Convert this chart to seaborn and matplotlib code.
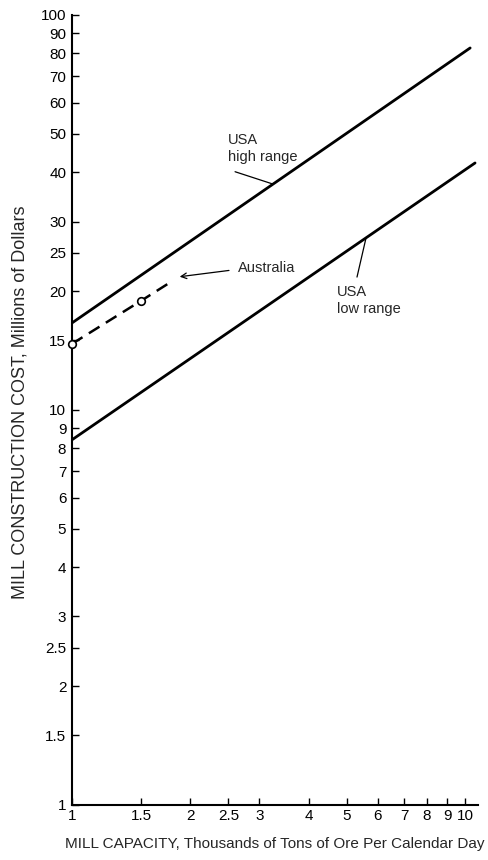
import matplotlib
matplotlib.use("Agg")
import matplotlib.pyplot as plt
import seaborn as sns
import pandas as pd
from matplotlib.ticker import FixedLocator, NullLocator

sns.set_style("ticks")
plt.rcParams['font.family'] = ['Liberation Sans', 'DejaVu Sans']

# Data
high_x = [1.0, 10.3]
high_y = [16.6, 82.5]
low_x = [1.0, 10.6]
low_y = [8.4, 42.2]
aus_x = [1.0, 1.5, 1.8]
aus_y = [14.7, 18.9, 21.2]
aus_marker_x = [1.0, 1.5]
aus_marker_y = [14.7, 18.9]

x_ticks = [1, 1.5, 2, 2.5, 3, 4, 5, 6, 7, 8, 9, 10]
x_ticklabels = ["1", "1.5", "2", "2.5", "3", "4", "5", "6", "7", "8", "9", "10"]
y_ticks = [1, 1.5, 2, 2.5, 3, 4, 5, 6, 7, 8, 9, 10, 15, 20, 25, 30, 40, 50, 60, 70, 80, 90, 100]
y_ticklabels = ["1", "1.5", "2", "2.5", "3", "4", "5", "6", "7", "8", "9", "10",
                "15", "20", "25", "30", "40", "50", "60", "70", "80", "90", "100"]

df_high = pd.DataFrame({"x": high_x, "y": high_y})
df_low = pd.DataFrame({"x": low_x, "y": low_y})
df_aus = pd.DataFrame({"x": aus_x, "y": aus_y})
df_aus_m = pd.DataFrame({"x": aus_marker_x, "y": aus_marker_y})

fig = plt.figure(figsize=(4.89, 8.6), dpi=100)
ax = fig.add_axes([0.147, 0.064, 0.831, 0.9186])
ax.set_xscale("log")
ax.set_yscale("log")

sns.lineplot(data=df_high, x="x", y="y", ax=ax, color="black", lw=2.0)
sns.lineplot(data=df_low, x="x", y="y", ax=ax, color="black", lw=2.0)
sns.lineplot(data=df_aus, x="x", y="y", ax=ax, color="black", lw=1.8,
             linestyle=(0, (5, 3)))
sns.scatterplot(data=df_aus_m, x="x", y="y", ax=ax, s=30, facecolor="white",
                edgecolor="black", linewidth=1.2, zorder=5, clip_on=False)

ax.set_xlim(1, 10.8)
ax.set_ylim(1, 100)

ax.xaxis.set_major_locator(FixedLocator(x_ticks))
ax.xaxis.set_minor_locator(NullLocator())
ax.set_xticklabels(x_ticklabels)
ax.yaxis.set_major_locator(FixedLocator(y_ticks))
ax.yaxis.set_minor_locator(NullLocator())
ax.set_yticklabels(y_ticklabels)

ax.tick_params(axis="both", direction="in", length=5, width=1.0, labelsize=11,
               color="black", labelcolor="black")
ax.tick_params(axis="x", pad=3)
ax.tick_params(axis="y", pad=4)

for s in ["top", "right"]:
    ax.spines[s].set_visible(False)
for s in ["left", "bottom"]:
    ax.spines[s].set_linewidth(1.5)
    ax.spines[s].set_color("black")

ax.set_xlabel("MILL CAPACITY, Thousands of Tons of Ore Per Calendar Day",
              fontsize=11, labelpad=10)
ax.set_ylabel("MILL CONSTRUCTION COST, Millions of Dollars", fontsize=13, labelpad=8)
ax.yaxis.set_label_coords(-0.106, 0.51)

# Annotations
ax.text(2.49, 46.0, "USA\nhigh range", ha="left", va="center", fontsize=10.5,
        linespacing=1.3)
ax.plot([2.60, 3.25], [40.1, 37.3], color="black", lw=0.9)

ax.text(4.73, 18.9, "USA\nlow range", ha="left", va="center", fontsize=10.5,
        linespacing=1.3)
ax.plot([5.31, 5.6], [21.7, 27.3], color="black", lw=0.9)

ax.text(2.64, 22.9, "Australia", ha="left", va="center", fontsize=10.5)
ax.annotate("", xy=(1.85, 21.7), xytext=(2.55, 22.6),
            arrowprops=dict(arrowstyle="->", color="black", lw=0.9))

fig.savefig("out.png", dpi=100)
